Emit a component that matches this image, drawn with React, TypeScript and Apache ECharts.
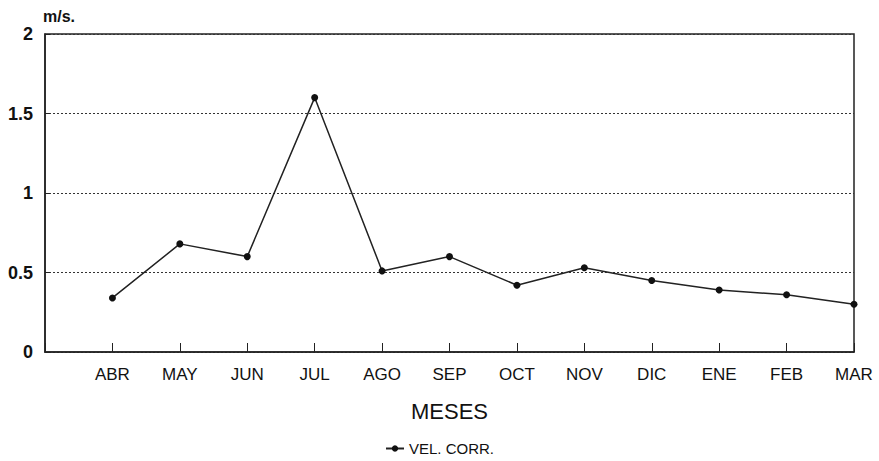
import React, { useEffect, useRef } from "react";
import * as echarts from "echarts";

const categories = ["", "ABR", "MAY", "JUN", "JUL", "AGO", "SEP", "OCT", "NOV", "DIC", "ENE", "FEB", "MAR"];
const velCorr = [null, 0.34, 0.68, 0.6, 1.6, 0.51, 0.6, 0.42, 0.53, 0.45, 0.39, 0.36, 0.3];
const yTicks = [0, 0.5, 1, 1.5, 2];
const seriesName = "VEL. CORR.";

export default function App() {
  const ref = useRef<HTMLDivElement>(null);
  useEffect(() => {
    if (!ref.current) return;
    const chart = echarts.init(ref.current, undefined, { renderer: "svg" });
    const font = "'Liberation Sans', Arial, sans-serif";
    chart.setOption({
      animation: false,
      backgroundColor: "#ffffff",
      textStyle: { fontFamily: font, color: "#111" },
      grid: {
        left: 45,
        right: 25,
        top: 34,
        bottom: 109,
        show: true,
        borderColor: "#222",
        borderWidth: 1.5,
        containLabel: false,
      },
      graphic: [
        {
          type: "text",
          left: 43,
          top: 8,
          style: { text: "m/s.", font: `bold 16px ${font}`, fill: "#111" },
        },
      ],
      legend: {
        bottom: 0,
        left: "center",
        data: [seriesName],
        itemWidth: 18,
        itemHeight: 8,
        itemGap: 3,
        textStyle: { fontFamily: font, fontSize: 15, color: "#111" },
      },
      xAxis: {
        type: "category",
        data: categories,
        boundaryGap: false,
        name: "MESES",
        nameLocation: "middle",
        nameGap: 48,
        nameTextStyle: { fontFamily: font, fontSize: 22, color: "#111" },
        axisLine: { lineStyle: { color: "#222", width: 1.5 } },
        axisTick: { inside: true, length: 9, lineStyle: { color: "#222" } },
        axisLabel: { fontSize: 17, color: "#111", margin: 14, fontFamily: font },
        splitLine: { show: false },
      },
      yAxis: {
        type: "value",
        min: 0,
        max: 2,
        interval: 0.5,
        axisLine: { show: true, lineStyle: { color: "#222", width: 1.5 } },
        axisTick: { show: true, inside: true, length: 5, lineStyle: { color: "#222" } },
        axisLabel: {
          fontSize: 18,
          fontWeight: "bold",
          color: "#111",
          margin: 12,
          fontFamily: font,
          formatter: (v: number) => (yTicks.includes(v) ? String(v) : ""),
        },
        splitLine: {
          show: true,
          lineStyle: { color: "#333", type: [2, 2], width: 1 },
        },
      },
      series: [
        {
          name: seriesName,
          type: "line",
          data: velCorr,
          symbol: "circle",
          symbolSize: 7,
          itemStyle: { color: "#111" },
          lineStyle: { color: "#222", width: 1.5 },
          connectNulls: false,
        },
      ],
    });
    return () => chart.dispose();
  }, []);
  return <div ref={ref} style={{ width: 879, height: 461, position: "absolute", left: 0, top: 0 }} />;
}
